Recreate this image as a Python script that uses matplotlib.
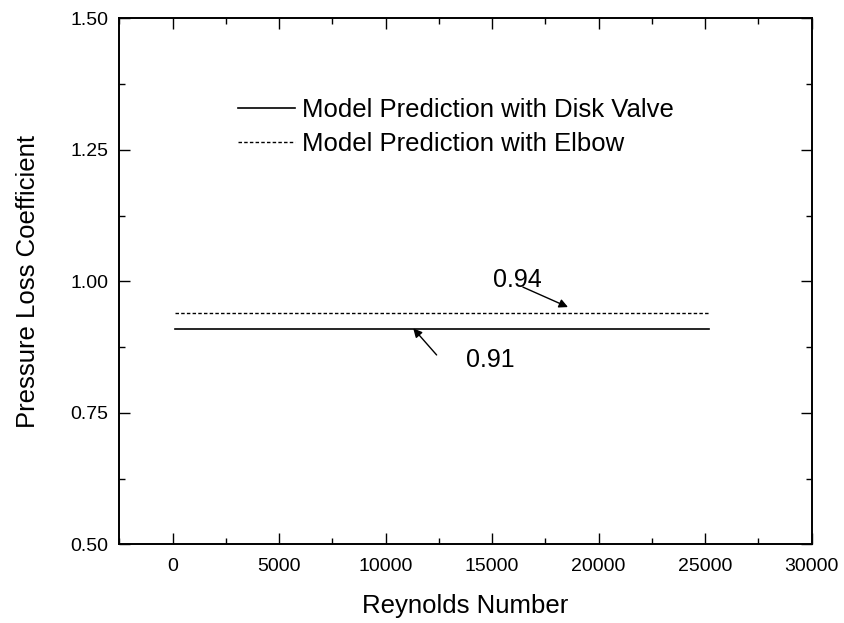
import matplotlib
matplotlib.use("Agg")
import matplotlib.pyplot as plt
from matplotlib.ticker import MultipleLocator, FormatStrFormatter

plt.rcParams['font.family'] = ['Liberation Sans', 'DejaVu Sans']

# Data
reynolds = [100, 25200]
disk_valve = [0.91, 0.91]
elbow = [0.94, 0.94]
series_labels = ["Model Prediction with Disk Valve", "Model Prediction with Elbow"]
xlabel = "Reynolds Number"
ylabel = "Pressure Loss Coefficient"
ann_elbow_text = "0.94"
ann_disk_text = "0.91"

fig = plt.figure(figsize=(8.45, 6.23), dpi=100)
ax = fig.add_axes([0.1412, 0.1263, 0.8194, 0.8443])

l1, = ax.plot(reynolds, disk_valve, color='black', lw=1.2, ls='-')
l2, = ax.plot(reynolds, elbow, color='black', lw=1.0, ls=(0, (2.5, 1.6)))

ax.set_xlim(-2500, 30000)
ax.set_ylim(0.5, 1.5)
ax.xaxis.set_major_locator(MultipleLocator(5000))
ax.xaxis.set_minor_locator(MultipleLocator(2500))
ax.yaxis.set_major_locator(MultipleLocator(0.25))
ax.yaxis.set_minor_locator(MultipleLocator(0.125))
ax.yaxis.set_major_formatter(FormatStrFormatter('%.2f'))

ax.tick_params(which='both', direction='in', top=True, right=True, width=1.0, labelsize=14)
ax.tick_params(axis='x', pad=9.5)
ax.tick_params(axis='y', pad=8)
ax.tick_params(which='major', length=7.8)
ax.tick_params(which='minor', length=4.3)
for s in ax.spines.values():
    s.set_linewidth(1.4)

ax.set_xlabel(xlabel, fontsize=18.5, labelpad=14)
ax.set_ylabel(ylabel, fontsize=18.5, labelpad=22)

leg = ax.legend([l1, l2], series_labels, loc='upper left',
                bbox_to_anchor=(238 / 845, 1 - 98 / 623), bbox_transform=fig.transFigure,
                frameon=False, fontsize=18.5, handlelength=2.2, handletextpad=0.28,
                labelspacing=0.4, borderpad=0, borderaxespad=0)

# Annotations
ax.text(16164, 1.0025, ann_elbow_text, fontsize=18, ha='center', va='center')
ax.annotate('', xy=(18560, 0.951), xytext=(16446, 0.989),
            arrowprops=dict(arrowstyle='-|>', color='black', lw=1.0, mutation_scale=13,
                            shrinkA=0, shrinkB=0))
ax.text(14897, 0.8504, ann_disk_text, fontsize=18, ha='center', va='center')
ax.annotate('', xy=(11296, 0.9106), xytext=(12394, 0.860),
            arrowprops=dict(arrowstyle='-|>', color='black', lw=1.0, mutation_scale=13,
                            shrinkA=0, shrinkB=0))

fig.savefig('out.png', dpi=100)
